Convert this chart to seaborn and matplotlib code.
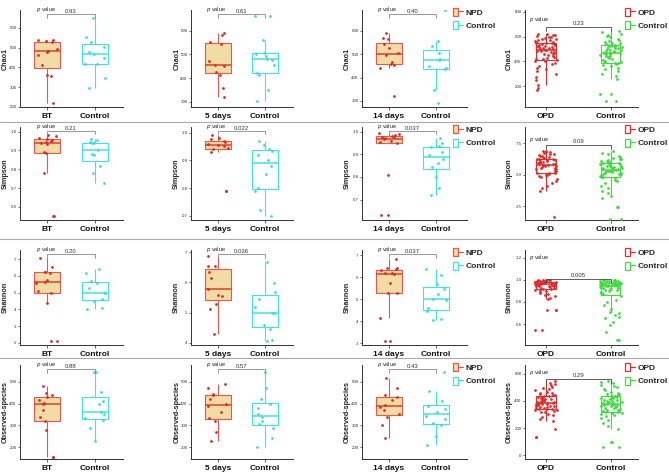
import numpy as np
import pandas as pd
import matplotlib
matplotlib.use("Agg")
import matplotlib.pyplot as plt
import matplotlib.transforms as mtransforms
from matplotlib.patches import Patch
from matplotlib.lines import Line2D
from matplotlib.legend_handler import HandlerTuple
import seaborn as sns

# ---------------- data ----------------
metrics = ["Chao1", "Simpson", "Shannon", "Observed-species"]
groups = [["BT", "Control"], ["5 days", "Control"], ["14 days", "Control"], ["OPD", "Control"]]
legend_labels = [None, None, ["NPD", "Control"], ["OPD", "Control"]]
p_values = [["0.93", "0.21", "0.20", "0.88"],
            ["0.61", "0.022", "0.036", "0.57"],
            ["0.40", "0.037", "0.037", "0.43"],
            ["0.23", "0.09", "0.005", "0.29"]]

# column 1 : BT vs Control
chao1_bt = [540, 540, 535, 528, 495, 485, 480, 465, 410, 360, 355, 220]
chao1_bt_ctrl = [650, 555, 530, 505, 480, 470, 450, 415, 415, 345, 295]
simpson_bt = [0.985, 0.975, 0.965, 0.96, 0.955, 0.95, 0.945, 0.94, 0.935, 0.89, 0.885, 0.78, 0.55, 0.55]
simpson_bt_ctrl = [0.96, 0.955, 0.945, 0.94, 0.94, 0.90, 0.88, 0.875, 0.815, 0.78, 0.725]
shannon_bt = [7.05, 6.5, 6.2, 6.2, 6.15, 5.75, 5.65, 5.55, 5.1, 4.95, 4.4, 2.1, 2.1]
shannon_bt_ctrl = [6.4, 6.15, 5.7, 5.6, 5.3, 5.0, 4.95, 4.6, 4.5, 4.1, 4.05]
observed_bt = [480, 450, 440, 430, 415, 402, 398, 370, 340, 320, 280, 155, 155]
observed_bt_ctrl = [545, 545, 455, 410, 400, 360, 350, 335, 325, 290, 230]

# column 2 : 5 days vs Control
chao1_5d = [590, 580, 550, 545, 470, 455, 450, 425, 415, 360, 320]
chao1_5d_ctrl = [660, 660, 560, 505, 500, 495, 480, 475, 455, 420, 415, 350, 305]
simpson_5d = [0.99, 0.98, 0.975, 0.97, 0.965, 0.96, 0.955, 0.95, 0.945, 0.94, 0.93, 0.79, 0.79]
simpson_5d_ctrl = [0.97, 0.955, 0.94, 0.935, 0.92, 0.90, 0.88, 0.85, 0.80, 0.79, 0.72, 0.70]
shannon_5d = [6.88, 6.53, 6.53, 6.33, 6.14, 5.79, 5.59, 5.54, 5.29, 5.12, 4.31]
shannon_5d_ctrl = [6.67, 5.98, 5.68, 5.46, 5.18, 5.0, 4.98, 4.59, 4.46, 4.11, 4.07]
observed_5d = [490, 470, 445, 440, 420, 400, 390, 360, 335, 320, 270, 230]
observed_5d_ctrl = [545, 470, 420, 400, 380, 350, 340, 320, 305, 290, 240, 200]

# column 3 : 14 days vs Control
chao1_14d = [590, 570, 565, 545, 525, 505, 495, 465, 460, 455, 440, 320]
chao1_14d_ctrl = [690, 555, 535, 505, 480, 475, 450, 440, 435, 345, 290]
simpson_14d = [0.995, 0.99, 0.985, 0.98, 0.978, 0.975, 0.97, 0.965, 0.96, 0.955, 0.95, 0.81, 0.63, 0.63]
simpson_14d_ctrl = [0.97, 0.95, 0.935, 0.93, 0.91, 0.895, 0.88, 0.86, 0.845, 0.80, 0.75, 0.72]
shannon_14d = [6.83, 6.42, 6.42, 6.35, 6.32, 6.2, 6.17, 6.15, 5.71, 5.29, 5.26, 4.13, 3.09, 3.09]
shannon_14d_ctrl = [6.38, 6.09, 5.67, 5.44, 5.21, 5.0, 4.95, 4.58, 4.45, 4.08, 4.05]
observed_14d = [520, 470, 440, 430, 415, 395, 385, 370, 350, 340, 300, 240]
observed_14d_ctrl = [545, 460, 410, 390, 375, 360, 345, 330, 310, 300, 250, 210]

# column 4 : OPD vs Control
chao1_opd = [170, 180, 210, 250, 275, 300, 320, 335, 350, 365, 378, 390, 400, 405, 410,
             415, 420, 428, 435, 442, 450, 456, 462, 468, 473, 478, 483, 487, 490, 493,
             496, 500, 505, 510, 514, 518, 522, 526, 530, 534, 538, 542, 545, 548, 551,
             555, 560, 565, 570, 575, 580, 585, 590, 595, 600, 605, 610, 615, 620, 625]
chao1_opd_ctrl = [75, 75, 133, 133, 260, 280, 300, 320, 335, 350, 360, 370, 378, 385, 389,
                  392, 398, 405, 412, 420, 428, 434, 440, 446, 452, 457, 462, 466, 468, 471,
                  475, 480, 486, 490, 495, 500, 505, 510, 515, 519, 523, 526, 528, 531, 535,
                  540, 545, 552, 560, 568, 576, 585, 595, 605, 615, 625, 635, 648]
simpson_opd = [1.6, 3.7, 3.9, 4.1, 4.3, 4.5, 4.65, 4.8, 4.9, 4.95, 5.0, 5.05, 5.08, 5.1,
               5.12, 5.2, 5.3, 5.35, 5.4, 5.45, 5.5, 5.55, 5.6, 5.65, 5.68, 5.72, 5.75, 5.78,
               5.82, 5.86, 5.9, 5.94, 5.98, 6.02, 6.06, 6.1, 6.13, 6.16, 6.2, 6.22, 6.26,
               6.3, 6.35, 6.4, 6.45, 6.5, 6.55, 6.6, 6.65, 6.7, 6.75, 6.8, 6.85, 6.9]
simpson_opd_ctrl = [1.5, 1.5, 2.4, 2.4, 3.15, 3.3, 3.5, 3.7, 3.9, 4.1, 4.3, 4.45, 4.6, 4.7,
                    4.78, 4.82, 4.88, 4.95, 5.0, 5.02, 5.05, 5.1, 5.12, 5.15, 5.2, 5.25,
                    5.28, 5.3, 5.33, 5.36, 5.38, 5.4, 5.45, 5.48, 5.5, 5.55, 5.6, 5.62, 5.65,
                    5.7, 5.75, 5.78, 5.8, 5.85, 5.88, 5.9, 5.92, 5.95, 6.0, 6.05, 6.1, 6.15,
                    6.2, 6.25, 6.3, 6.4, 6.5, 6.6, 6.7, 6.83]
shannon_opd = [0.545, 0.545, 0.73, 0.73, 0.73, 0.83, 0.84, 0.85, 0.86, 0.87, 0.88, 0.89,
               0.90, 0.905, 0.91, 0.915, 0.92, 0.925, 0.93, 0.935, 0.94, 0.942, 0.945,
               0.948, 0.95, 0.952, 0.955, 0.957, 0.96, 0.962, 0.965, 0.967, 0.97, 0.972,
               0.974, 0.976, 0.978, 0.98, 0.982, 0.984, 0.986, 0.988, 0.99, 0.992, 0.994,
               0.996, 0.998, 1.0, 0.955, 0.96, 0.965, 0.97, 0.975, 0.98, 0.985, 0.99,
               0.995, 0.96, 0.97, 0.98]
shannon_opd_ctrl = [0.455, 0.455, 0.53, 0.59, 0.62, 0.65, 0.66, 0.68, 0.70, 0.71, 0.74,
                    0.77, 0.80, 0.82, 0.85, 0.87, 0.88, 0.89, 0.90, 0.905, 0.91, 0.915,
                    0.92, 0.925, 0.93, 0.935, 0.94, 0.942, 0.945, 0.948, 0.95, 0.952,
                    0.955, 0.958, 0.96, 0.962, 0.965, 0.968, 0.97, 0.972, 0.975, 0.977,
                    0.98, 0.982, 0.985, 0.988, 0.99, 0.992, 0.995, 0.998, 1.0, 0.96, 0.97,
                    0.98, 0.99, 0.975, 0.965, 0.955, 0.945, 0.985]
observed_opd = [132, 132, 193, 254, 265, 280, 295, 305, 315, 322, 328, 332, 335, 338, 340,
                343, 347, 350, 354, 358, 362, 366, 370, 374, 378, 381, 384, 386, 388, 390,
                393, 396, 400, 404, 408, 412, 416, 420, 424, 428, 432, 435, 438, 441, 445,
                450, 456, 462, 470, 478, 486, 495, 505, 515, 525, 535, 546, 400, 380, 360]
observed_opd_ctrl = [59, 59, 95, 95, 193, 215, 240, 260, 275, 290, 300, 305, 310, 313, 315,
                     318, 325, 332, 340, 348, 355, 360, 365, 370, 373, 376, 378, 382, 386,
                     390, 395, 400, 405, 410, 415, 420, 425, 430, 435, 438, 442, 448, 455,
                     462, 470, 480, 490, 500, 510, 520, 530, 540, 546, 400, 350, 380, 420,
                     440, 330, 370]

panel_data = {
    (0, 0): (chao1_bt, chao1_bt_ctrl), (0, 1): (simpson_bt, simpson_bt_ctrl),
    (0, 2): (shannon_bt, shannon_bt_ctrl), (0, 3): (observed_bt, observed_bt_ctrl),
    (1, 0): (chao1_5d, chao1_5d_ctrl), (1, 1): (simpson_5d, simpson_5d_ctrl),
    (1, 2): (shannon_5d, shannon_5d_ctrl), (1, 3): (observed_5d, observed_5d_ctrl),
    (2, 0): (chao1_14d, chao1_14d_ctrl), (2, 1): (simpson_14d, simpson_14d_ctrl),
    (2, 2): (shannon_14d, shannon_14d_ctrl), (2, 3): (observed_14d, observed_14d_ctrl),
    (3, 0): (chao1_opd, chao1_opd_ctrl), (3, 1): (simpson_opd, simpson_opd_ctrl),
    (3, 2): (shannon_opd, shannon_opd_ctrl), (3, 3): (observed_opd, observed_opd_ctrl),
}

# ---------------- style / layout ----------------
W, H = 669, 472
col_x = [(20, 123), (191, 293), (362, 467), (525, 638)]
row_y = [(10, 107), (127, 220), (250, 345), (365, 459)]
col_xlim = [(-0.56, 1.58), (-0.57, 1.6), (-0.57, 1.66), (-0.32, 1.42)]
ylims = [[(200, 690), (278, 687), (274, 690), (30, 816)],
         [(0.53, 1.025), (0.685, 1.02), (0.61, 1.02), (1.39, 8.77)],
         [(1.88, 7.54), (3.93, 7.07), (2.91, 7.23), (0.41, 1.27)],
         [(145, 578), (145, 578), (145, 578), (-29, 666)]]
yticks = [[[200, 300, 400, 500, 600], [300, 400, 500, 600], [300, 400, 500, 600], [200, 400, 600, 800]],
          [[0.6, 0.7, 0.8, 0.9, 1.0], [0.7, 0.8, 0.9, 1.0], [0.7, 0.8, 0.9, 1.0], [2.5, 5.0, 7.5]],
          [[2, 3, 4, 5, 6, 7], [4, 5, 6, 7], [3, 4, 5, 6, 7], [0.6, 0.8, 1.0, 1.2]],
          [[200, 300, 400, 500], [200, 300, 400, 500], [200, 300, 400, 500], [0, 200, 400, 600]]]
float_fmt = [[False] * 4, [True] * 4, [False, False, False, True], [False] * 4]
# col4 bracket geometry (axes fraction): (p-label y, bracket y)
col4_br = [(0.905, 0.825), (0.87, 0.806), (0.925, 0.695), (0.925, 0.85)]
# y-label x position (axes fraction, right edge of rotated text)
ylab_x = [-0.105, -0.105, -0.11, -0.11]

RED_PT = "#DD2A2A"
RED_EDGE = "#E8584A"
RED_MED = "#E63A30"
TAN = "#F1DCA4"
CYAN = "#3DE3EA"
CYAN_PT = "#3FD9E3"
OPD_RED = "#E52A2A"
GREEN = "#3FDC3F"
SPINE = "#333333"

sns.set_theme(style="white")
plt.rcParams["font.family"] = ["Liberation Sans", "DejaVu Sans"]
plt.rcParams["mathtext.fontset"] = "dejavusans"

fig = plt.figure(figsize=(W / 100, H / 100), dpi=100)
np.random.seed(7)

for c in range(4):
    for r in range(4):
        x0, x1 = col_x[c]
        y0, y1 = row_y[r]
        ax = fig.add_axes([x0 / W, 1 - y1 / H, (x1 - x0) / W, (y1 - y0) / H])
        g1, g2 = groups[c]
        v1, v2 = panel_data[(c, r)]
        d1 = pd.DataFrame({"group": [g1] * len(v1), "value": v1})
        d2 = pd.DataFrame({"group": [g2] * len(v2), "value": v2})
        order = [g1, g2]
        if c < 3:
            specs = [(d1, TAN, RED_EDGE, RED_MED, RED_PT), (d2, "white", CYAN, CYAN, CYAN_PT)]
            bw, jit = 0.55, 0.22
        else:
            specs = [(d1, "white", OPD_RED, OPD_RED, OPD_RED), (d2, "white", GREEN, GREEN, GREEN)]
            bw, jit = 0.3, 0.17
        for d, fillc, edgec, medc, ptc in specs:
            sns.boxplot(data=d, x="group", y="value", order=order, color=fillc,
                        linecolor=edgec, linewidth=0.8, width=bw, saturation=1,
                        showcaps=False, showfliers=False, whis=1.5, ax=ax,
                        medianprops={"color": medc, "linewidth": 1.1})
            sns.stripplot(data=d, x="group", y="value", order=order, color=ptc,
                          size=2.0, jitter=jit, linewidth=0, ax=ax, zorder=3)
        ax.set_xlim(*col_xlim[c])
        ax.set_ylim(*ylims[r][c])
        ax.set_yticks(yticks[r][c])
        if float_fmt[r][c]:
            ax.set_yticklabels([f"{t:.1f}" for t in yticks[r][c]])
        else:
            ax.set_yticklabels([f"{t:g}" for t in yticks[r][c]])
        ax.set_xlabel("")
        ax.set_ylabel(metrics[r], fontsize=5.2, fontweight="bold")
        ax.yaxis.set_label_coords(ylab_x[c], 0.5)
        ax.set_xticks([0, 1])
        ax.set_xticklabels(order, fontsize=6, fontweight="bold", color="#111111")
        ax.tick_params(axis="y", labelsize=3.2, length=1.5, width=0.5, pad=1,
                       left=True, colors="#333333")
        ax.tick_params(axis="x", length=2, width=0.5, pad=2, bottom=True)
        for s in ["top", "right"]:
            ax.spines[s].set_visible(False)
        for s in ["left", "bottom"]:
            ax.spines[s].set_color(SPINE)
            ax.spines[s].set_linewidth(0.7)
        ax.patch.set_alpha(0)

        trans = mtransforms.blended_transform_factory(ax.transData, ax.transAxes)
        if c < 3:
            by, drop, bcol = 0.955, 0.035, "#888888"
            ax.plot([0, 0, 1, 1], [by - drop, by, by, by - drop], transform=trans,
                    color=bcol, lw=0.6, clip_on=False, zorder=4)
            ax.text(-0.03, by + 0.005, r"$p$ value", transform=trans, ha="center",
                    va="bottom", fontsize=4, color="#222222")
            ax.text(0.5, by + 0.005, p_values[c][r], transform=trans, ha="center",
                    va="bottom", fontsize=4.3, color="#333333")
        else:
            py, by = col4_br[r]
            drop = 0.04
            ax.plot([0, 0, 1, 1], [by - drop, by, by, by - drop], transform=trans,
                    color="#444444", lw=0.6, clip_on=False, zorder=4)
            ax.text(-0.1, py, r"$p$ value", transform=trans, ha="center",
                    va="center", fontsize=4, color="#222222")
            ax.text(0.5, by + 0.012, p_values[c][r], transform=trans, ha="center",
                    va="bottom", fontsize=4.3, color="#333333")

        if legend_labels[c] is not None:
            if c == 2:
                cols_leg = [(TAN, RED_EDGE), ("white", CYAN)]
                lx = 0.865
            else:
                cols_leg = [("white", OPD_RED), ("white", GREEN)]
                lx = 0.885
            handles = []
            for fc, ec in cols_leg:
                handles.append((Patch(facecolor=fc, edgecolor=ec, linewidth=0.9),
                                Line2D([], [], color=ec, lw=0.9)))
            leg = ax.legend(handles, legend_labels[c], loc="upper left",
                            bbox_to_anchor=(lx, 1.02), frameon=False,
                            handler_map={tuple: HandlerTuple(ndivide=None)},
                            prop={"size": 6, "weight": "bold"}, handlelength=1.2,
                            handleheight=1.1, handletextpad=0.3, labelspacing=0.55,
                            borderpad=0, borderaxespad=0)
            leg.set_zorder(5)

for ysep in [122, 239, 358]:
    fig.add_artist(Line2D([0, 1], [1 - ysep / H, 1 - ysep / H], transform=fig.transFigure,
                          color="#AAAAAA", lw=0.8))

fig.savefig("out.png", dpi=100)
